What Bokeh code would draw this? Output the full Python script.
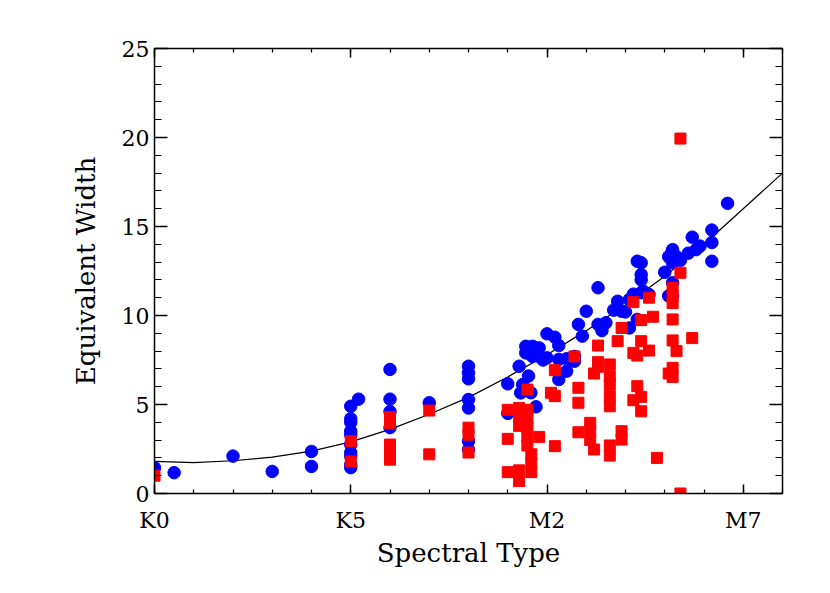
from bokeh.plotting import figure
from bokeh.models import (LinearAxis, FixedTicker, Range1d, CustomJSTickFormatter)
from bokeh.embed import file_html
from bokeh.resources import INLINE

# Spectral type coded numerically: K0=0 ... K7=7, M0=8, M2=10, M7=15
x_tick_values = [0, 5, 10, 15]
x_tick_labels = ["K0", "K5", "M2", "M7"]
y_tick_values = [0, 5, 10, 15, 20, 25]

blue_x = [0.0, 0.5, 2.0, 3.0, 4.0, 4.0,
          5.0, 5.0, 5.0, 5.0, 5.0, 5.0, 5.0, 5.0, 5.0, 5.0, 5.2,
          6.0, 6.0, 6.0, 6.0,
          7.0,
          8.0, 8.0, 8.0, 8.0, 8.0, 8.0, 8.0,
          9.0, 9.0, 9.29, 9.38, 9.33, 9.59, 9.53, 9.72, 9.46, 9.46, 9.63, 9.8, 9.63, 9.8, 9.9,
          10.0, 10.2, 10.3, 10.0, 10.3, 10.5, 10.7, 10.5, 10.3, 10.8, 10.9, 11.0, 10.7,
          11.3, 11.3, 11.4, 11.5, 11.7, 11.8, 11.9, 12.0, 12.1, 12.1, 12.2, 12.4, 12.3, 12.4, 12.4,
          12.3, 12.4, 12.6, 12.45,
          13.0, 13.17, 13.2, 13.3, 13.1, 13.4, 13.2, 13.6, 13.7, 13.8, 13.9, 14.2, 14.2, 14.2, 14.6,
          13.2, 13.1, 13.2]
blue_y = [1.45, 1.17, 2.1, 1.24, 2.36, 1.52,
          4.9, 4.2, 4.0, 3.5, 3.3, 2.75, 2.3, 2.1, 1.6, 1.45, 5.3,
          6.97, 5.3, 4.6, 3.7,
          5.1,
          7.15, 6.78, 6.44, 5.28, 4.8, 2.94, 2.47,
          6.16, 4.5, 7.15, 6.12, 5.65, 5.66, 6.6, 4.87, 8.27, 7.9, 8.27, 8.18, 7.7, 7.7, 7.5,
          8.97, 8.78, 8.31, 7.62, 7.53, 7.57, 7.43, 6.87, 6.4, 9.5, 8.84, 10.24, 7.7,
          11.56, 9.5, 9.15, 9.59, 10.3, 10.8, 10.24, 10.2, 9.3, 10.9, 11.2, 11.28, 9.78, 12.0, 12.3,
          13.05, 12.96, 11.18, 11.37,
          12.43, 13.5, 13.7, 13.3, 13.3, 13.1, 12.96, 13.5, 14.4, 13.7, 13.9, 14.1, 14.8, 13.05, 16.3,
          11.1, 11.1, 11.84]

red_x = [0.0,
         5.0, 5.0,
         6.0, 6.0, 6.0, 6.0, 6.0, 6.0,
         7.0, 7.0,
         8.0, 8.0, 8.0,
         9.0, 9.0, 9.0,
         9.29, 9.29, 9.29, 9.29, 9.29,
         9.5, 9.5, 9.5, 9.5, 9.5, 9.5,
         9.6, 9.6, 9.6,
         9.8,
         10.1, 10.2, 10.2, 10.2,
         10.7, 10.8, 10.8, 10.8,
         11.1, 11.1, 11.1, 11.2,
         11.3, 11.3, 11.3, 11.2,
         11.6, 11.6, 11.6, 11.6, 11.6, 11.6, 11.6,
         11.9, 11.8, 11.9, 11.9,
         12.2, 12.6, 12.7, 12.4, 12.4, 12.6, 12.2, 12.3,
         12.3, 12.4, 12.2, 12.4, 12.8,
         13.4, 13.2, 13.2, 13.2, 13.2, 13.2, 13.3, 13.7, 13.2, 13.1, 13.2, 13.4, 13.4]
red_y = [1.0,
         2.94, 1.8,
         4.3, 3.95, 2.75, 2.4, 2.1, 1.9,
         4.66, 2.2,
         3.7, 3.3, 2.3,
         4.7, 3.07, 1.2,
         4.8, 4.3, 3.8, 1.3, 0.7,
         4.7, 4.2, 3.7, 3.2, 2.7, 5.84,
         2.2, 1.7, 1.2,
         3.18,
         5.66, 5.47, 6.93, 2.66,
         7.7, 5.94, 5.1, 3.44,
         3.97, 3.5, 3.0, 2.47,
         8.31, 7.38, 7.12, 6.74,
         7.25, 6.59, 6.12, 5.47, 4.9, 2.7, 2.13,
         9.3, 8.56, 3.5, 3.03,
         10.75, 11.0, 9.93, 9.74, 8.56, 8.03, 7.9, 7.75,
         6.03, 5.43, 5.24, 4.62, 2.0,
         12.4, 11.56, 11.1, 10.7, 9.78, 8.6, 8.0, 8.73, 7.06, 6.74, 6.55, 0.0, 19.94]

# fitted relation
fit_x = [0, 1, 2, 3, 4, 5, 6, 7, 8, 9, 10, 11, 12, 13, 14, 15, 16]
fit_y = [1.8, 1.74, 1.84, 2.04, 2.38, 2.9, 3.6, 4.45, 5.4, 6.55, 7.8, 9.15, 10.6, 12.2, 14.0, 16.0, 18.0]

FONT = "DejaVu Serif"

p = figure(frame_width=628, frame_height=445, output_backend="svg", toolbar_location=None,
           x_range=Range1d(0, 16), y_range=Range1d(0, 25),
           min_border_left=154, min_border_right=38, min_border_top=48, min_border_bottom=88,
           background_fill_color="white", border_fill_color="white")
p.grid.visible = False
p.outline_line_color = None

p.line(fit_x, fit_y, line_color="black", line_width=1.2)
p.scatter(blue_x, blue_y, marker="circle", size=12.5, fill_color="#0000FF", line_color="#0000FF")
p.scatter(red_x, red_y, marker="square", size=11, fill_color="#FF0000", line_color="#FF0000")

xt = FixedTicker(ticks=x_tick_values, minor_ticks=list(range(0, 17)))
yt = FixedTicker(ticks=y_tick_values, minor_ticks=list(range(0, 26)))

def style(ax, ymode):
    ax.axis_line_color = "black"
    ax.axis_line_width = 1.5
    ax.major_tick_out = 0
    ax.minor_tick_out = 0
    if ymode:
        ax.major_tick_in = 13
        ax.minor_tick_in = 7
    else:
        ax.major_tick_in = 9
        ax.minor_tick_in = 4
    ax.major_tick_line_width = 1.5
    ax.minor_tick_line_width = 1.2
    ax.major_label_text_font = FONT
    ax.major_label_text_font_size = "22px"
    ax.major_label_text_color = "black"
    ax.axis_label_text_font = FONT
    ax.axis_label_text_font_size = "26px"
    ax.axis_label_text_font_style = "normal"
    ax.axis_label_text_color = "black"

xa = p.xaxis[0]
xa.ticker = xt
xa.major_label_overrides = dict(zip(x_tick_values, x_tick_labels))
xa.axis_label = "Spectral Type"
style(xa, False)
xa.major_label_standoff = 14
xa.axis_label_standoff = 2

ya = p.yaxis[0]
ya.ticker = yt
ya.axis_label = "Equivalent Width"
style(ya, True)
ya.major_label_standoff = 5
ya.axis_label_standoff = 18

blank = CustomJSTickFormatter(code="return '';")
top = LinearAxis(ticker=xt, formatter=blank)
style(top, False)
p.add_layout(top, "above")
right = LinearAxis(ticker=yt, formatter=blank)
style(right, True)
p.add_layout(right, "right")

open("out.html", "w").write(file_html(p, INLINE))
